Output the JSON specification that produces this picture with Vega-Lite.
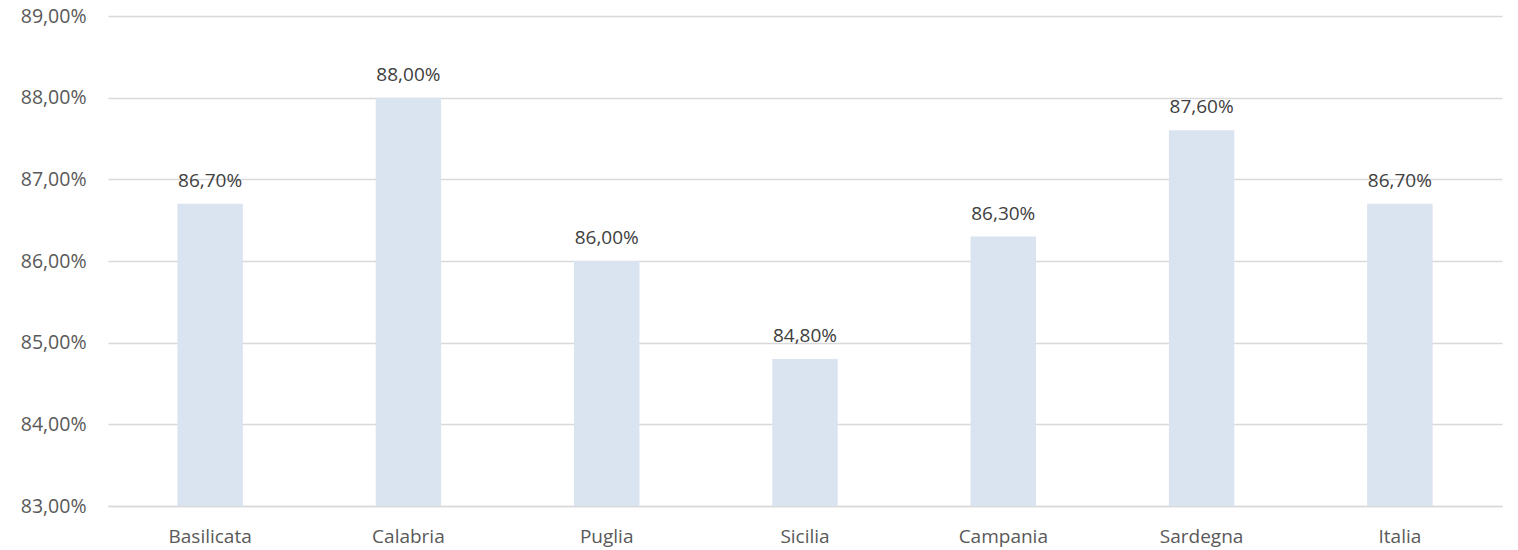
{
  "$schema": "https://vega.github.io/schema/vega-lite/v6.json",
  "width": 1394,
  "height": 490,
  "autosize": {"type": "none"},
  "padding": {"left": 108, "top": 16, "right": 16, "bottom": 44},
  "background": "white",
  "config": {
    "locale": {"number": {"decimal": ",", "thousands": ".", "grouping": [3], "currency": ["", " €"]}},
    "view": {"stroke": null},
    "font": "Open Sans"
  },
  "data": {
    "values": [
      {"regione": "Basilicata", "valore": 0.867},
      {"regione": "Calabria", "valore": 0.880},
      {"regione": "Puglia", "valore": 0.860},
      {"regione": "Sicilia", "valore": 0.848},
      {"regione": "Campania", "valore": 0.863},
      {"regione": "Sardegna", "valore": 0.876},
      {"regione": "Italia", "valore": 0.867}
    ]
  },
  "encoding": {
    "x": {
      "field": "regione", "type": "nominal", "sort": null,
      "scale": {"paddingInner": 0.67, "paddingOuter": 0.35},
      "axis": {
        "title": null, "labelAngle": 0, "ticks": false,
        "domainColor": "#D9D9D9", "domainWidth": 1.5,
        "labelColor": "#595959", "labelFontSize": 19, "labelPadding": 21,
        "labelFont": "Open Sans", "labelOverlap": false
      }
    },
    "y": {
      "field": "valore", "type": "quantitative",
      "scale": {"domain": [0.83, 0.89], "zero": false, "nice": false, "clamp": true},
      "axis": {
        "title": null, "format": ".2%", "values": [0.83, 0.84, 0.85, 0.86, 0.87, 0.88, 0.89],
        "domain": false, "ticks": false, "labelOverlap": false,
        "gridColor": "#D9D9D9", "gridWidth": 1.5,
        "labelColor": "#595959", "labelFontSize": 19.5, "labelPadding": 22,
        "labelFont": "Open Sans"
      }
    }
  },
  "layer": [
    {"mark": {"type": "bar", "color": "#DAE3F0"}},
    {
      "mark": {"type": "text", "baseline": "bottom", "dy": -13, "fontSize": 19, "color": "#404040", "font": "Open Sans"},
      "encoding": {"text": {"field": "valore", "type": "quantitative", "format": ".2%"}}
    }
  ]
}
